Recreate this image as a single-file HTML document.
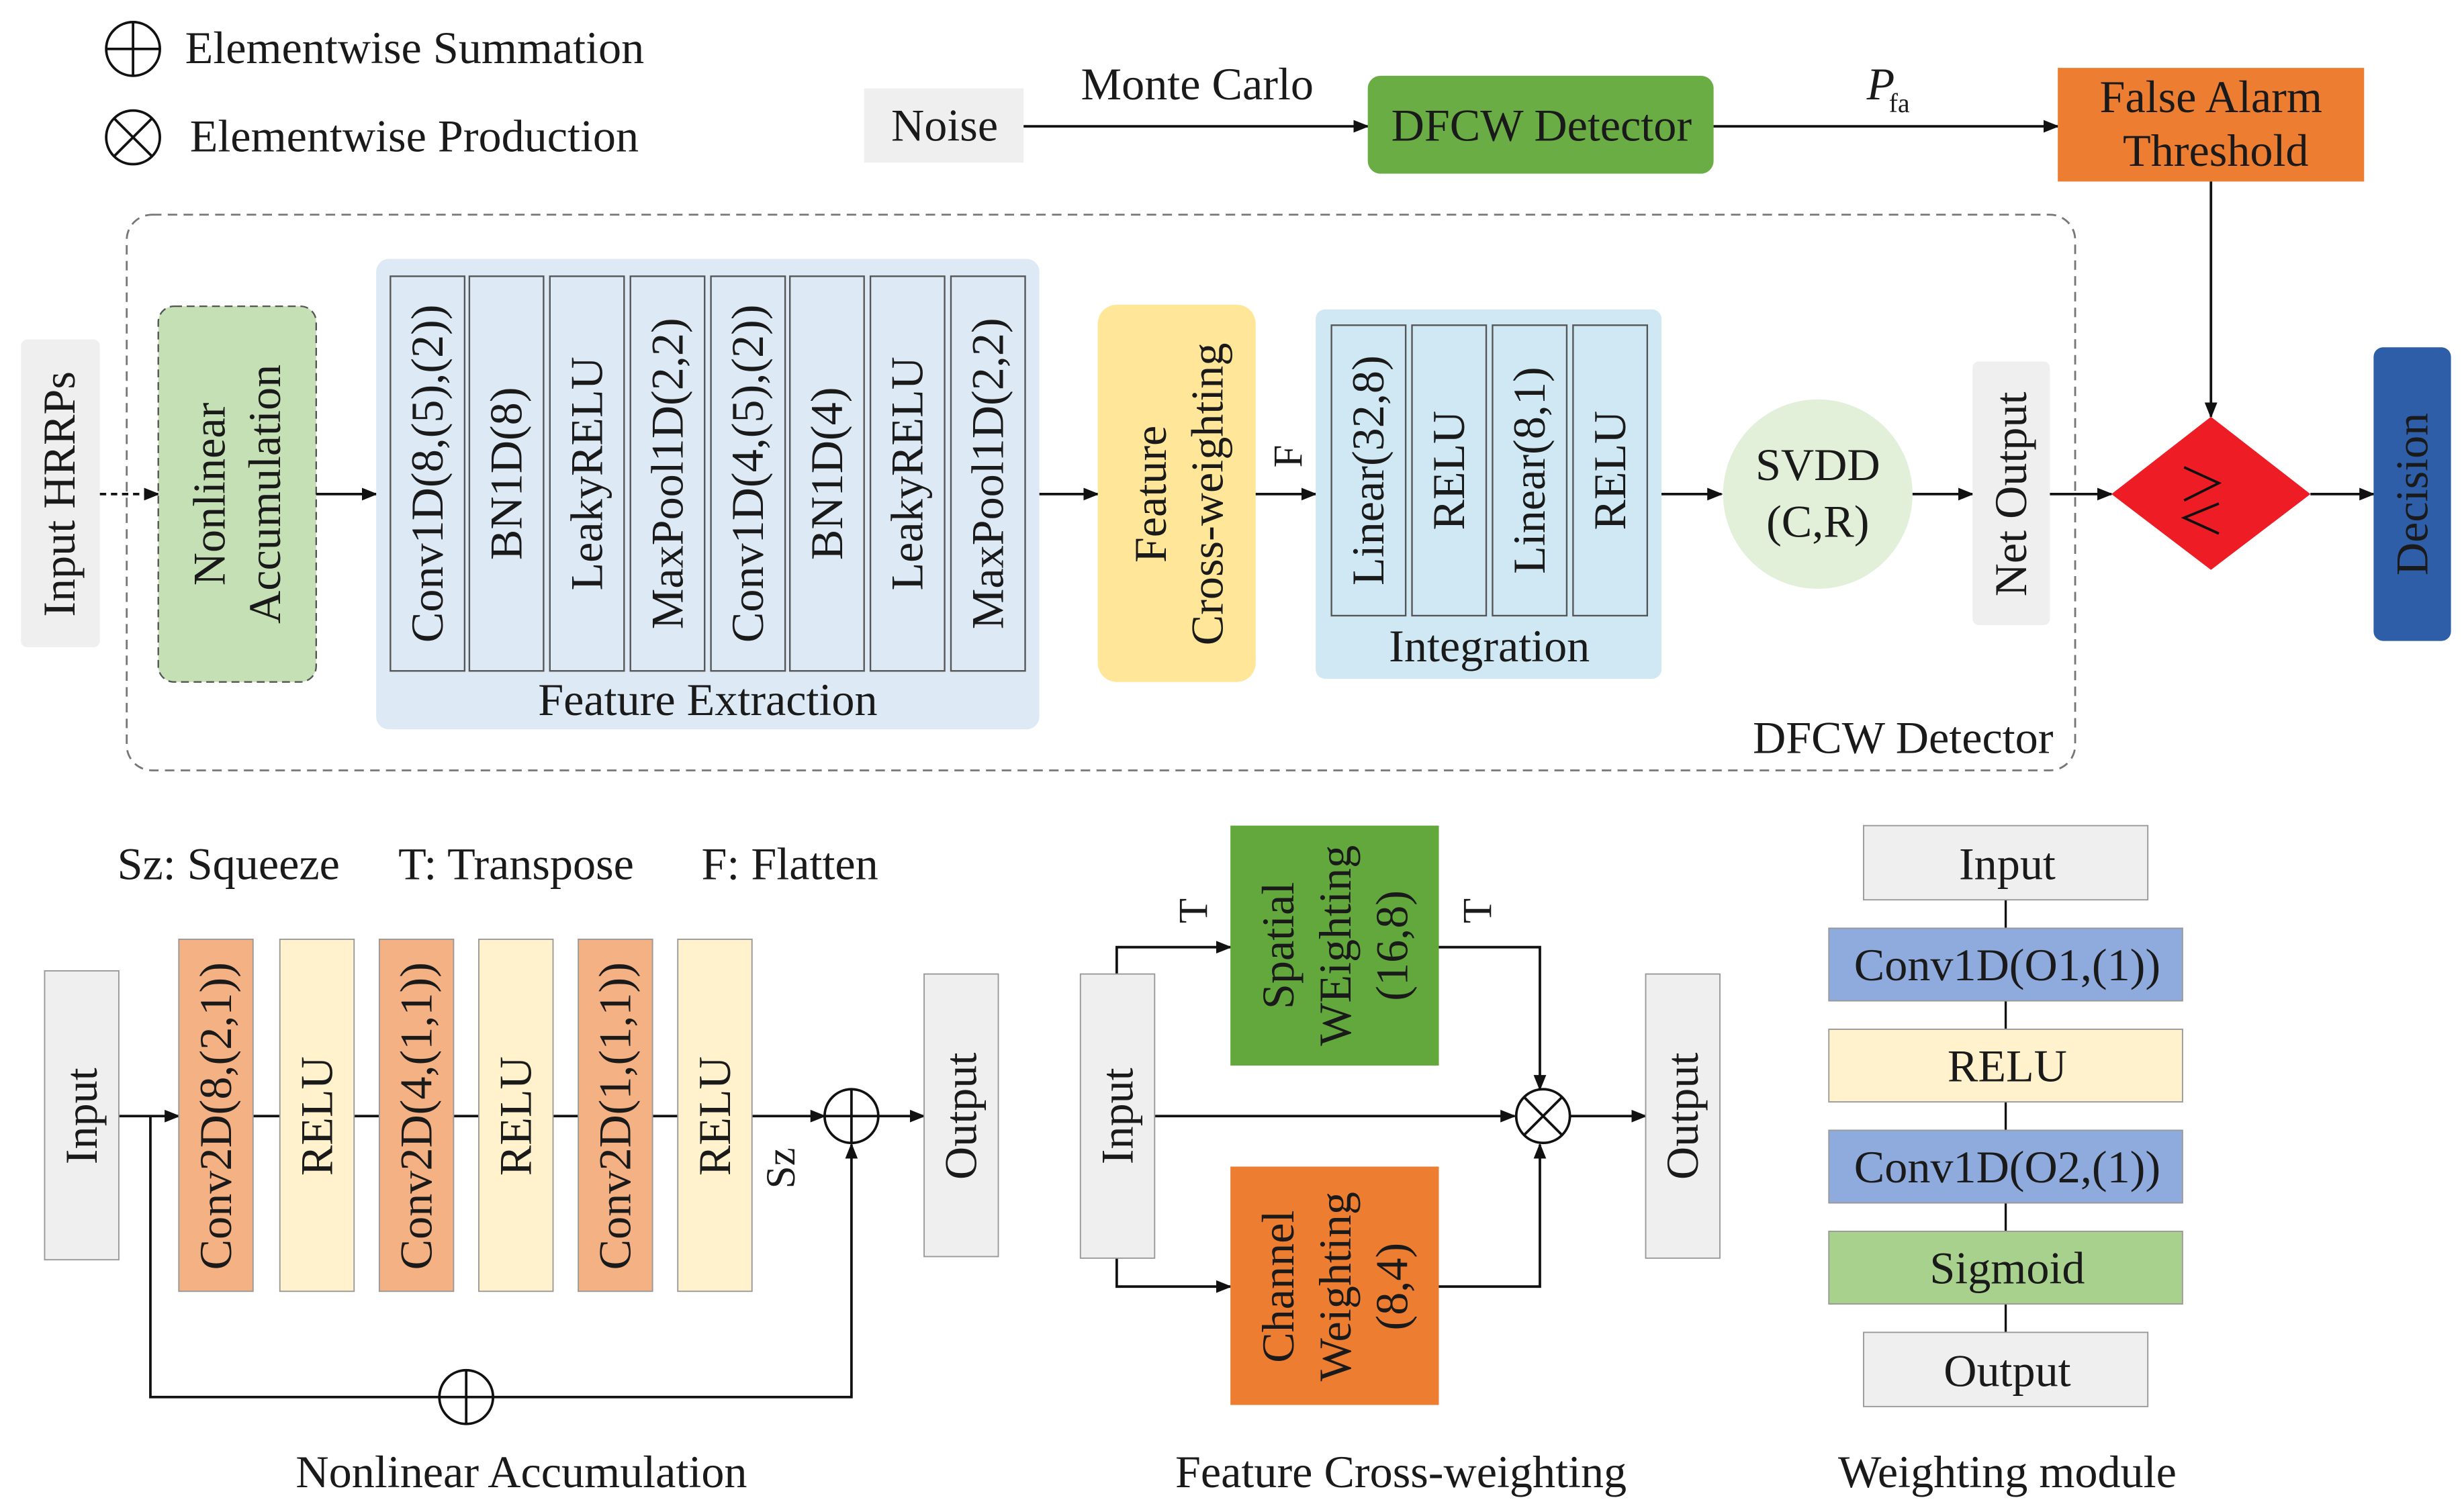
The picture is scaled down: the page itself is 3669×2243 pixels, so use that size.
<!DOCTYPE html>
<html><head><meta charset="utf-8"><style>
html,body{margin:0;padding:0;background:#fff;}
svg{display:block;}
text{font-family:"Liberation Serif",serif;fill:#1a1a1a;}
</style></head><body>
<svg width="3669" height="2243" viewBox="0 0 1560 954" xmlns="http://www.w3.org/2000/svg">
<defs>
<marker id="a" markerWidth="10" markerHeight="8" refX="9" refY="4" orient="auto" markerUnits="userSpaceOnUse">
<path d="M0,0 L10,4 L0,8 Z" fill="#111"/></marker>
</defs>
<g stroke="#111" stroke-width="1.6" fill="none">
<circle cx="84" cy="31" r="17"/><line x1="67" y1="31" x2="101" y2="31"/><line x1="84" y1="14" x2="84" y2="48"/>
<circle cx="84" cy="87" r="17"/><line x1="72" y1="75" x2="96" y2="99"/><line x1="96" y1="75" x2="72" y2="99"/>
</g>
<g font-size="29">
<text x="117" y="40">Elementwise Summation</text>
<text x="120" y="96">Elementwise Production</text>
</g>

<rect x="547" y="56" width="101" height="47" fill="#efefef"/>
<text x="598" y="89" font-size="29" text-anchor="middle">Noise</text>
<line x1="648" y1="80" x2="866" y2="80" stroke="#111" stroke-width="1.6" marker-end="url(#a)"/>
<text x="758" y="63" font-size="29" text-anchor="middle">Monte Carlo</text>
<rect x="866" y="48" width="219" height="62" rx="8" fill="#6aad45"/>
<text x="976" y="89" font-size="29" text-anchor="middle">DFCW Detector</text>
<line x1="1085" y1="80" x2="1303" y2="80" stroke="#111" stroke-width="1.6" marker-end="url(#a)"/>
<text x="1182" y="63" font-size="29" font-style="italic">P</text><text x="1196" y="71" font-size="17">fa</text>
<rect x="1303" y="43" width="194" height="72" fill="#ed7d31"/>
<text x="1400" y="71" font-size="29" text-anchor="middle">False Alarm</text>
<text x="1403" y="105" font-size="29" text-anchor="middle">Threshold</text>
<line x1="1400" y1="115" x2="1400" y2="264" stroke="#111" stroke-width="1.6" marker-end="url(#a)"/>

<rect x="80" y="136" width="1234" height="352" rx="16" fill="none" stroke="#777" stroke-width="1.2" stroke-dasharray="6,4"/>
<text x="1205" y="477" font-size="29" text-anchor="middle">DFCW Detector</text>

<rect x="13" y="215" width="50" height="195" rx="4" fill="#efefef"/>
<text transform="translate(47,313) rotate(-90)" font-size="29" text-anchor="middle">Input HRRPs</text>
<line x1="63" y1="313" x2="100" y2="313" stroke="#111" stroke-width="1.6" stroke-dasharray="4,3" marker-end="url(#a)"/>
<rect x="100" y="194" width="100" height="238" rx="10" fill="#c5e0b4" stroke="#555" stroke-width="1" stroke-dasharray="5,3"/>
<text transform="translate(142,313) rotate(-90)" font-size="29" text-anchor="middle">Nonlinear</text>
<text transform="translate(177,313) rotate(-90)" font-size="29" text-anchor="middle">Accumulation</text>
<line x1="200" y1="313" x2="238" y2="313" stroke="#111" stroke-width="1.6" marker-end="url(#a)"/>

<rect x="238" y="164" width="420" height="298" rx="8" fill="#dde9f5"/>
<g fill="#dde9f5" stroke="#555" stroke-width="1">
<rect x="247" y="175" width="47" height="250"/><rect x="297" y="175" width="47" height="250"/>
<rect x="348" y="175" width="47" height="250"/><rect x="399" y="175" width="47" height="250"/>
<rect x="450" y="175" width="47" height="250"/><rect x="500" y="175" width="47" height="250"/>
<rect x="551" y="175" width="47" height="250"/><rect x="602" y="175" width="47" height="250"/>
</g>
<g font-size="29" text-anchor="middle">
<text transform="translate(280,300) rotate(-90)">Conv1D(8,(5),(2))</text>
<text transform="translate(330,300) rotate(-90)">BN1D(8)</text>
<text transform="translate(381,300) rotate(-90)">LeakyRELU</text>
<text transform="translate(432,300) rotate(-90)">MaxPool1D(2,2)</text>
<text transform="translate(483,300) rotate(-90)">Conv1D(4,(5),(2))</text>
<text transform="translate(533,300) rotate(-90)">BN1D(4)</text>
<text transform="translate(584,300) rotate(-90)">LeakyRELU</text>
<text transform="translate(635,300) rotate(-90)">MaxPool1D(2,2)</text>
</g>
<text x="448" y="453" font-size="29" text-anchor="middle">Feature Extraction</text>
<line x1="658" y1="313" x2="695" y2="313" stroke="#111" stroke-width="1.6" marker-end="url(#a)"/>

<rect x="695" y="193" width="100" height="239" rx="12" fill="#ffe699"/>
<text transform="translate(738,313) rotate(-90)" font-size="29" text-anchor="middle">Feature</text>
<text transform="translate(774,313) rotate(-90)" font-size="29" text-anchor="middle">Cross-weighting</text>
<line x1="795" y1="313" x2="833" y2="313" stroke="#111" stroke-width="1.6" marker-end="url(#a)"/>
<text transform="translate(824,289) rotate(-90)" font-size="26" text-anchor="middle">F</text>

<rect x="833" y="196" width="219" height="234" rx="6" fill="#cfe8f3"/>
<g fill="#cfe8f3" stroke="#555" stroke-width="1">
<rect x="843" y="206" width="47" height="184"/><rect x="894" y="206" width="47" height="184"/>
<rect x="945" y="206" width="47" height="184"/><rect x="996" y="206" width="47" height="184"/>
</g>
<g font-size="29" text-anchor="middle">
<text transform="translate(876,298) rotate(-90)">Linear(32,8)</text>
<text transform="translate(927,298) rotate(-90)">RELU</text>
<text transform="translate(978,298) rotate(-90)">Linear(8,1)</text>
<text transform="translate(1029,298) rotate(-90)">RELU</text>
</g>
<text x="943" y="419" font-size="29" text-anchor="middle">Integration</text>
<line x1="1052" y1="313" x2="1090" y2="313" stroke="#111" stroke-width="1.6" marker-end="url(#a)"/>
<circle cx="1151" cy="313" r="60" fill="#e2efd9"/>
<text x="1151" y="304" font-size="29" text-anchor="middle">SVDD</text>
<text x="1151" y="340" font-size="29" text-anchor="middle">(C,R)</text>
<line x1="1211" y1="313" x2="1249" y2="313" stroke="#111" stroke-width="1.6" marker-end="url(#a)"/>
<rect x="1249" y="229" width="49" height="167" rx="4" fill="#efefef"/>
<text transform="translate(1283,313) rotate(-90)" font-size="29" text-anchor="middle">Net Output</text>
<line x1="1298" y1="313" x2="1337" y2="313" stroke="#111" stroke-width="1.6" marker-end="url(#a)"/>
<polygon points="1337,313 1400,264 1463,313 1400,361" fill="#ee1c25"/>
<g stroke="#111" stroke-width="1.6" fill="none">
<polyline points="1383,296 1405,306 1383,317"/>
<polyline points="1405,319 1383,328 1405,338"/>
</g>
<line x1="1463" y1="313" x2="1503" y2="313" stroke="#111" stroke-width="1.6" marker-end="url(#a)"/>
<rect x="1503" y="220" width="49" height="186" rx="6" fill="#2e5ea8"/>
<text transform="translate(1537,313) rotate(-90)" font-size="29" text-anchor="middle">Decision</text>

<g font-size="29">
<text x="74" y="557">Sz:  Squeeze</text>
<text x="252" y="557">T:  Transpose</text>
<text x="444" y="557">F: Flatten</text>
</g>

<g stroke="#111" stroke-width="1.6" fill="none">
<line x1="75" y1="707" x2="113" y2="707" marker-end="url(#a)"/>
<line x1="160" y1="707" x2="177" y2="707"/><line x1="224" y1="707" x2="240" y2="707"/>
<line x1="287" y1="707" x2="303" y2="707"/><line x1="350" y1="707" x2="366" y2="707"/>
<line x1="413" y1="707" x2="429" y2="707"/>
<line x1="476" y1="707" x2="522" y2="707" marker-end="url(#a)"/>
<line x1="556" y1="707" x2="585" y2="707" marker-end="url(#a)"/>
<polyline points="95,707 95,885 539,885 539,725" marker-end="url(#a)"/>
<circle cx="539" cy="707" r="17" fill="#fff"/><line x1="522" y1="707" x2="556" y2="707"/><line x1="539" y1="690" x2="539" y2="724"/>
<circle cx="295" cy="885" r="17" fill="#fff"/><line x1="278" y1="885" x2="312" y2="885"/><line x1="295" y1="868" x2="295" y2="902"/>
</g>
<rect x="28" y="615" width="47" height="183" fill="#efefef" stroke="#999" stroke-width="0.8"/>
<text transform="translate(61,707) rotate(-90)" font-size="29" text-anchor="middle">Input</text>
<g stroke="#999" stroke-width="0.8">
<rect x="113" y="595" width="47" height="223" fill="#f4b183"/>
<rect x="177" y="595" width="47" height="223" fill="#fff2cc"/>
<rect x="240" y="595" width="47" height="223" fill="#f4b183"/>
<rect x="303" y="595" width="47" height="223" fill="#fff2cc"/>
<rect x="366" y="595" width="47" height="223" fill="#f4b183"/>
<rect x="429" y="595" width="47" height="223" fill="#fff2cc"/>
<rect x="585" y="617" width="47" height="179" fill="#efefef"/>
</g>
<g font-size="29" text-anchor="middle">
<text transform="translate(146,707) rotate(-90)">Conv2D(8,(2,1))</text>
<text transform="translate(210,707) rotate(-90)">RELU</text>
<text transform="translate(273,707) rotate(-90)">Conv2D(4,(1,1))</text>
<text transform="translate(336,707) rotate(-90)">RELU</text>
<text transform="translate(399,707) rotate(-90)">Conv2D(1,(1,1))</text>
<text transform="translate(462,707) rotate(-90)">RELU</text>
<text transform="translate(503,740) rotate(-90)" font-size="26">Sz</text>
<text transform="translate(618,707) rotate(-90)">Output</text>
</g>
<text x="330" y="942" font-size="29" text-anchor="middle">Nonlinear Accumulation</text>

<g stroke="#111" stroke-width="1.6" fill="none">
<polyline points="707,617 707,600 779,600" marker-end="url(#a)"/>
<polyline points="707,797 707,815 779,815" marker-end="url(#a)"/>
<polyline points="911,600 975,600 975,690" marker-end="url(#a)"/>
<polyline points="911,815 975,815 975,725" marker-end="url(#a)"/>
<line x1="731" y1="707" x2="959" y2="707" marker-end="url(#a)"/>
<line x1="994" y1="707" x2="1042" y2="707" marker-end="url(#a)"/>
<circle cx="977" cy="707" r="17" fill="#fff"/><line x1="965" y1="695" x2="989" y2="719"/><line x1="989" y1="695" x2="965" y2="719"/>
</g>
<rect x="684" y="617" width="47" height="180" fill="#efefef" stroke="#999" stroke-width="0.8"/>
<text transform="translate(717,707) rotate(-90)" font-size="29" text-anchor="middle">Input</text>
<rect x="779" y="523" width="132" height="152" fill="#62a83c"/>
<rect x="779" y="739" width="132" height="151" fill="#ed7d31"/>
<rect x="1042" y="617" width="47" height="180" fill="#efefef" stroke="#999" stroke-width="0.8"/>
<g font-size="29" text-anchor="middle">
<text transform="translate(819,599) rotate(-90)">Spatial</text>
<text transform="translate(855,599) rotate(-90)">WEighting</text>
<text transform="translate(891,599) rotate(-90)">(16,8)</text>
<text transform="translate(819,815) rotate(-90)">Channel</text>
<text transform="translate(855,815) rotate(-90)">Weighting</text>
<text transform="translate(891,815) rotate(-90)">(8,4)</text>
<text transform="translate(1075,707) rotate(-90)">Output</text>
<text transform="translate(764,577) rotate(-90)" font-size="26">T</text>
<text transform="translate(944,577) rotate(-90)" font-size="26">T</text>
</g>
<text x="887" y="942" font-size="29" text-anchor="middle">Feature Cross-weighting</text>

<line x1="1270" y1="570" x2="1270" y2="844" stroke="#111" stroke-width="1.4"/>
<g stroke="#999" stroke-width="0.8">
<rect x="1180" y="523" width="180" height="47" fill="#efefef"/>
<rect x="1158" y="588" width="224" height="46" fill="#8faadc"/>
<rect x="1158" y="652" width="224" height="46" fill="#fff2cc"/>
<rect x="1158" y="716" width="224" height="46" fill="#8faadc"/>
<rect x="1158" y="780" width="224" height="46" fill="#a9d18e"/>
<rect x="1180" y="844" width="180" height="47" fill="#efefef"/>
</g>
<g font-size="29" text-anchor="middle">
<text x="1271" y="557">Input</text>
<text x="1271" y="621">Conv1D(O1,(1))</text>
<text x="1271" y="685">RELU</text>
<text x="1271" y="749">Conv1D(O2,(1))</text>
<text x="1271" y="813">Sigmoid</text>
<text x="1271" y="878">Output</text>
<text x="1271" y="942">Weighting module</text>
</g>
</svg>
</body></html>
